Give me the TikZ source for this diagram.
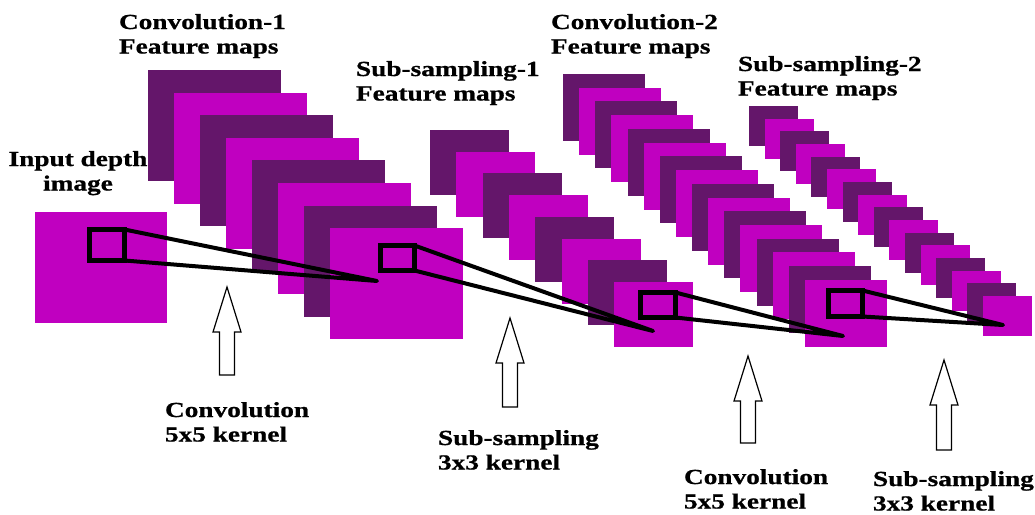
\documentclass[tikz,border=0pt]{standalone}
\usepackage{fontspec}
\setmainfont{Liberation Serif}[FakeStretch=1.27, BoldFeatures={FakeBold=0.8}]
\definecolor{darkp}{RGB}{100,22,106}
\definecolor{magp}{RGB}{192,0,192}
\begin{document}
\begin{tikzpicture}[x=1pt,y=-1pt,
  lbl/.style={inner sep=0pt, outer sep=0pt, font=\fontsize{21.5}{24.5}\selectfont\bfseries},
  fmap/.style={inner sep=0pt, outer sep=0pt, anchor=north west, draw=none},
  kbox/.style={draw=black, line width=5pt, inner sep=0pt, outer sep=0pt},
  kline/.style={draw=black, line width=4pt, line join=round, line cap=round},
  arrowline/.style={draw=black, line width=1.2pt, fill=white, line join=miter},
  pics/uparrow/.style={code={
    \draw[arrowline] (0,0) -- (14,45) -- (7.5,45) -- (7.5,#1) -- (-7.5,#1) -- (-7.5,45) -- (-14,45) -- cycle;}}
]
\useasboundingbox (0,0) rectangle (1035,514);

% input image
\node[fmap, fill=magp, minimum width=132pt, minimum height=111pt] (in) at (35,212) {};

% Convolution-1 feature maps
\foreach \i in {0,...,7}{
  \ifodd\i \def\col{magp}\else\def\col{darkp}\fi
  \node[fmap, fill=\col, minimum width=133pt, minimum height=111pt] (ca\i) at ({148+26*\i},{70+22.6*\i}) {};
}
% Sub-sampling-1 feature maps
\foreach \i in {0,...,7}{
  \ifodd\i \def\col{magp}\else\def\col{darkp}\fi
  \node[fmap, fill=\col, minimum width=79pt, minimum height=65pt] (sa\i) at ({430+26.3*\i},{130+21.7*\i}) {};
}
% Convolution-2 feature maps
\foreach \i in {0,...,15}{
  \ifodd\i \def\col{magp}\else\def\col{darkp}\fi
  \node[fmap, fill=\col, minimum width=82pt, minimum height=67pt] (cb\i) at ({563+16.13*\i},{74+13.73*\i}) {};
}
% Sub-sampling-2 feature maps
\foreach \i in {0,...,15}{
  \ifodd\i \def\col{magp}\else\def\col{darkp}\fi
  \node[fmap, fill=\col, minimum width=49pt, minimum height=40pt] (sb\i) at ({749+15.6*\i},{106+12.67*\i}) {};
}

% kernel boxes
\node[kbox, minimum width=35pt, minimum height=31pt] (k0) at (107,245) {};
\node[kbox, minimum width=34pt, minimum height=25pt] (k1) at (397.5,258) {};
\node[kbox, minimum width=35pt, minimum height=25pt] (k2) at (658,305) {};
\node[kbox, minimum width=34pt, minimum height=26pt] (k3) at (845.5,303.5) {};

\coordinate (p1) at (377,281);
\coordinate (p2) at (653,331);
\coordinate (p3) at (843,336);
\coordinate (p4) at (1003,325);

\draw[kline] (k0.north east) -- (p1) -- (k0.south east);
\draw[kline] (k1.north east) -- (p2) -- (k1.south east);
\draw[kline] (k2.north east) -- (p3) -- (k2.south east);
\draw[kline] (k3.north east) -- (p4) -- (k3.south east);

% arrows
\pic at (227,287) {uparrow=88};
\pic at (510,318) {uparrow=89};
\pic at (748,356) {uparrow=87};
\pic at (944,360) {uparrow=90};

% labels
\node[lbl, anchor=base west] (l1) at (119,29) {\begin{tabular}[t]{@{}l@{}}Convolution-1\\Feature maps\end{tabular}};
\node[lbl, anchor=base west] (l2) at (356,76) {\begin{tabular}[t]{@{}l@{}}Sub-sampling-1\\Feature maps\end{tabular}};
\node[lbl, anchor=base west] (l3) at (551,29) {\begin{tabular}[t]{@{}l@{}}Convolution-2\\Feature maps\end{tabular}};
\node[lbl, anchor=base west] (l4) at (738,71) {\begin{tabular}[t]{@{}l@{}}Sub-sampling-2\\Feature maps\end{tabular}};
\node[lbl, anchor=base] (l0) at (78,166) {\begin{tabular}[t]{@{}c@{}}Input depth\\image\end{tabular}};
\node[lbl, anchor=base west] (b1) at (165,417) {\begin{tabular}[t]{@{}l@{}}Convolution\\5x5 kernel\end{tabular}};
\node[lbl, anchor=base west] (b2) at (438,445) {\begin{tabular}[t]{@{}l@{}}Sub-sampling\\3x3 kernel\end{tabular}};
\node[lbl, anchor=base west] (b3) at (684,484) {\begin{tabular}[t]{@{}l@{}}Convolution\\5x5 kernel\end{tabular}};
\node[lbl, anchor=base west] (b4) at (873,486) {\begin{tabular}[t]{@{}l@{}}Sub-sampling\\3x3 kernel\end{tabular}};
\end{tikzpicture}
\end{document}
